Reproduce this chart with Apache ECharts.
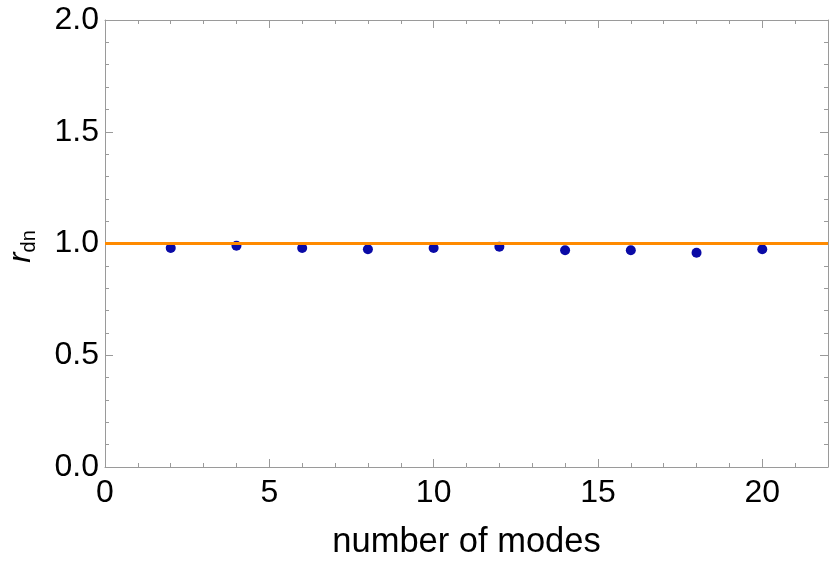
<!DOCTYPE html>
<html>
<head>
<meta charset="utf-8">
<script src="https://cdn.jsdelivr.net/npm/echarts@6/dist/echarts.min.js"></script>
<style>
  html, body { margin: 0; padding: 0; background: #fff; }
  #chart { width: 830px; height: 562px; }
</style>
</head>
<body>
<div id="chart"></div>
<script>
// data
var modes = [2, 4, 6, 8, 10, 12, 14, 16, 18, 20]
var rdn = [0.980, 0.990, 0.980, 0.974, 0.980, 0.986, 0.970, 0.970, 0.959, 0.974]
var refLevel = 1.0

var frameColor = "#9a9a9a"
var font = "'Liberation Sans', Arial, sans-serif"

// a value axis; major ones carry the frame line, minor ones only short ticks
function axis(pos, min, max, step, tickLen, withLabels, extra) {
    var a = {
        type: "value",
        position: pos,
        min: min,
        max: max,
        interval: step,
        splitLine: { show: false },
        axisLine: { show: tickLen > 5, onZero: false, lineStyle: { color: frameColor, width: 1 } },
        axisTick: { show: true, inside: true, length: tickLen, lineStyle: { color: frameColor, width: 1 } },
        axisLabel: { show: withLabels }
    }
    return Object.assign(a, extra || {})
}

var chart = echarts.init(document.getElementById("chart"))

var option = {
    animation: false,
    backgroundColor: "#fff",
    grid: { left: 105, right: 2, top: 20, bottom: 95, outerBoundsMode: "none" },
    xAxis: [
        axis("bottom", 0, 22, 5, 8, true, {
            axisLabel: { show: true, color: "#000", fontSize: 32, fontFamily: font, margin: 10, showMaxLabel: false },
            name: "number of modes",
            nameLocation: "middle",
            nameGap: 58,
            nameTextStyle: { color: "#000", fontSize: 34.5, fontFamily: font }
        }),
        axis("bottom", 0, 22, 1, 4, false),
        axis("top", 0, 22, 5, 8, false),
        axis("top", 0, 22, 1, 4, false)
    ],
    yAxis: [
        axis("left", 0, 2, 0.5, 8, true, {
            axisLabel: {
                show: true, color: "#000", fontSize: 32, fontFamily: font, margin: 6,
                formatter: function (v) { return v.toFixed(1) }
            },
            name: "{i|r}{s|dn}",
            nameLocation: "middle",
            nameGap: 66,
            nameRotate: 90,
            nameTextStyle: {
                padding: [0, 6, 0, 0],
                rich: {
                    i: { fontSize: 31, fontStyle: "italic", fontFamily: font, color: "#000", lineHeight: 36 },
                    s: { fontSize: 20, fontFamily: font, color: "#000", lineHeight: 36, verticalAlign: "bottom" }
                }
            }
        }),
        axis("left", 0, 2, 0.1, 4, false),
        axis("right", 0, 2, 0.5, 8, false),
        axis("right", 0, 2, 0.1, 4, false)
    ],
    series: [
        {
            type: "scatter",
            xAxisIndex: 0,
            yAxisIndex: 0,
            data: modes.map(function (m, i) { return [m, rdn[i]] }),
            symbolSize: 10,
            itemStyle: { color: "#0a0aa6", opacity: 1 },
            z: 3,
            markLine: {
                silent: true,
                symbol: "none",
                label: { show: false },
                lineStyle: { color: "#ff8a00", width: 3, type: "solid" },
                data: [{ yAxis: refLevel }]
            }
        }
    ]
}

chart.setOption(option)
</script>
</body>
</html>
